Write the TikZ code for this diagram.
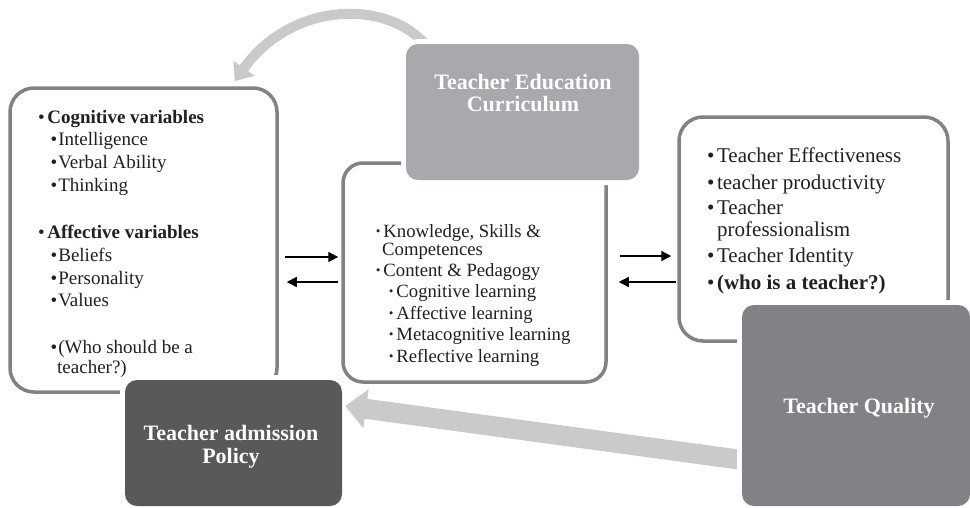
\documentclass[tikz,border=0pt]{standalone}
\usepackage{fontspec}
\newfontfamily\tnr{Liberation Serif}
\usetikzlibrary{arrows.meta,calc}
\definecolor{outl}{HTML}{808285}
\definecolor{curfill}{HTML}{A7A9AC}
\definecolor{admfill}{HTML}{58595B}
\definecolor{tqfill}{HTML}{808285}
\definecolor{bigarr}{HTML}{C9CACC}
\definecolor{txt}{HTML}{231F20}
\begin{document}
\begin{tikzpicture}[x=1pt,y=-1pt,
  obox/.style={draw=outl, line width=3.5pt, rectangle, inner sep=0pt, minimum width=#1},
  fbox/.style={preaction={draw=white, line width=10pt}, rounded corners=12pt, rectangle, inner sep=0pt},
  lt/.style={font=\tnr\fontsize{19pt}{23pt}\selectfont, anchor=base west, inner sep=0pt, text=txt},
  rt/.style={font=\tnr\fontsize{21pt}{25pt}\selectfont, anchor=base west, inner sep=0pt, text=txt},
  mt/.style={font=\tnr\fontsize{18.7pt}{21pt}\selectfont, anchor=base west, inner sep=0pt, text=txt},
  tt/.style={font=\tnr\bfseries\fontsize{22pt}{26pt}\selectfont, anchor=base, inner sep=0pt, text=white},
  sarr/.style={draw=black, line width=1.3pt, -{Triangle[length=10pt,width=10pt]}},
  larr/.style={draw=bigarr, line width=10pt, -{Triangle[length=16pt,width=25pt]}},
  barr/.style={draw=bigarr, line width=20pt, -{Triangle[length=21pt,width=38pt]}}
]
\useasboundingbox (0,0) rectangle (970,507);
\fill[white] (0,0) rectangle (970,507);

% outlined boxes
\node[obox=267pt, minimum height=304pt, rounded corners=24pt] (left) at (143.5,240) {};
\node[obox=263pt, minimum height=219pt, rounded corners=20pt] (mid) at (474.5,272.5) {};
\node[obox=269pt, minimum height=224pt, rounded corners=24pt] (right) at (813.5,229) {};

% curved light arrow (drawn under the curriculum box)
\coordinate (cs) at ($(406,44)+(24,6)$);
\draw[larr] (cs) .. controls (392,-2) and (292,0) .. ($(left.north east)+(-44,-5)$);

% filled boxes
\node[fbox, fill=curfill, minimum width=233pt, minimum height=136pt] (cur) at (522.5,112) {};
\node[fbox, fill=admfill, minimum width=217pt, minimum height=126pt] (adm) at (233.5,443) {};
\draw[barr] ($(adm.east)+(400,17)$) -- ($(adm.east)+(3,-37)$);
\node[fbox, fill=tqfill, minimum width=228pt, minimum height=201pt] (tq) at (856,405.5) {};

% small arrows
\draw[sarr] ($(left.east |- 0,257)+(6,0)$) -- ($(mid.west |- 0,257)+(-3,0)$);
\draw[sarr] ($(mid.west |- 0,282)+(-3,0)$) -- ($(left.east |- 0,282)+(8,0)$);
\draw[sarr] ($(mid.east |- 0,256)+(12,0)$) -- ($(right.west |- 0,256)+(-6,0)$);
\draw[sarr] ($(right.west |- 0,282)+(-1,0)$) -- ($(mid.east |- 0,282)+(11,0)$);

% titles
\node[tt] (curA) at (523,89) {Teacher Education};
\node[tt] (curB) at (523,111.5) {Curriculum};
\node[tt] (admA) at (231,440) {Teacher admission};
\node[tt] (admB) at (231,463) {Policy};
\node[tt] (tqA) at (859,413) {Teacher Quality};

% left box text
\node[lt] (l1) at (38,123) {•\hspace{2.5pt}\textbf{Cognitive variables}};
\node[lt] (l2) at (50.5,145) {•\hspace{1pt}Intelligence};
\node[lt] (l3) at (50.5,168) {•\hspace{1pt}Verbal Ability};
\node[lt] (l4) at (50.5,191) {•\hspace{1pt}Thinking};
\node[lt] (l5) at (38,238) {•\hspace{2.5pt}\textbf{Affective variables}};
\node[lt] (l6) at (50.5,261) {•\hspace{1pt}Beliefs};
\node[lt] (l7) at (50.5,284) {•\hspace{1pt}Personality};
\node[lt] (l8) at (50.5,306) {•\hspace{1pt}Values};
\node[lt] (l9) at (50.5,353) {•\hspace{1pt}(Who should be a};
\node[lt] (l10) at (57,373) {teacher?)};

% middle box text
\node[mt] (m1) at (375,237) {\textbf{·}\hspace{2pt}Knowledge, Skills \&};
\node[mt] (m2) at (382,255) {Competences};
\node[mt] (m3) at (375,276) {\textbf{·}\hspace{2pt}Content \& Pedagogy};
\node[mt] (m4) at (388,297) {\textbf{·}\hspace{2pt}Cognitive learning};
\node[mt] (m5) at (388,319) {\textbf{·}\hspace{2pt}Affective learning};
\node[mt] (m6) at (388,340) {\textbf{·}\hspace{2pt}Metacognitive learning};
\node[mt] (m7) at (388,362) {\textbf{·}\hspace{2pt}Reflective learning};

% right box text
\node[rt] (r1) at (707,162) {•\hspace{2.5pt}Teacher Effectiveness};
\node[rt] (r2) at (707,189) {•\hspace{2.5pt}teacher productivity};
\node[rt] (r3) at (707,214) {•\hspace{2.5pt}Teacher};
\node[rt] (r4) at (717,236) {professionalism};
\node[rt] (r5) at (707,262) {•\hspace{2.5pt}Teacher Identity};
\node[rt] (r6) at (707,289) {•\hspace{2.5pt}\textbf{(who is a teacher?)}};
\end{tikzpicture}
\end{document}
